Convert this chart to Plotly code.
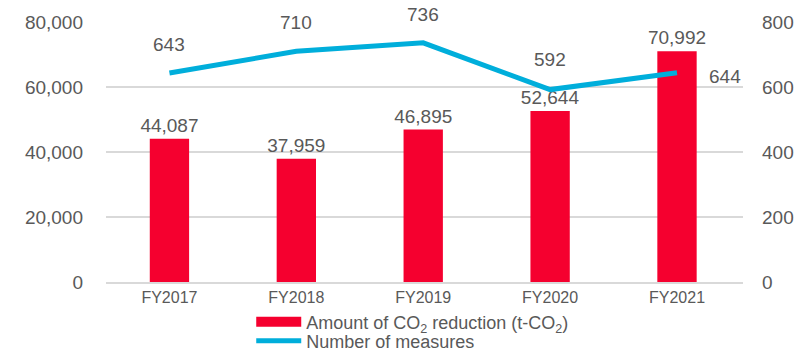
import plotly.graph_objects as go

years = ["FY2017", "FY2018", "FY2019", "FY2020", "FY2021"]
co2_reduction = [44087, 37959, 46895, 52644, 70992]
measures = [643, 710, 736, 592, 644]

left_ticks = [0, 20000, 40000, 60000, 80000]
right_ticks = [0, 200, 400, 600, 800]

RED = "#F5002F"
BLUE = "#00AEDB"
GRAY = "#595959"
FONT = "Liberation Sans, Arial, sans-serif"

fig = go.Figure()

fig.add_trace(go.Bar(
    x=years, y=co2_reduction,
    marker=dict(color=RED, line=dict(width=0)),
    width=0.31,
    text=[f"{v:,}" for v in co2_reduction],
    textposition="outside",
    constraintext="none",
    textfont=dict(size=19, color=GRAY, family=FONT),
    cliponaxis=False,
    showlegend=False,
))

# legend swatch for the bars, drawn as a thick line
fig.add_trace(go.Scatter(
    x=[None], y=[None], mode="lines",
    line=dict(color=RED, width=12),
    name="Amount of CO<sub>2</sub> reduction (t-CO<sub>2</sub>)",
    legend="legend",
))

fig.add_trace(go.Scatter(
    x=years, y=measures, yaxis="y2", mode="lines",
    line=dict(color=BLUE, width=5),
    name="Number of measures",
    legend="legend2",
))

# labels for the line values
shifts = [(0, 29), (0, 29), (0, 28), (0, 30), (48, -4)]
for yr, v, (dx, dy) in zip(years, measures, shifts):
    fig.add_annotation(
        x=yr, y=v, xref="x", yref="y2", text=str(v), showarrow=False,
        xshift=dx, yshift=dy,
        font=dict(size=19, color=GRAY, family=FONT),
    )

legend_style = dict(
    orientation="v", x=0.228, xanchor="left", yanchor="middle",
    yref="container",
    font=dict(size=18, color=GRAY), bgcolor="rgba(0,0,0,0)", itemwidth=45,
)

fig.update_layout(
    width=797, height=352,
    margin=dict(l=106, r=54, t=22, b=70, autoexpand=False),
    paper_bgcolor="white", plot_bgcolor="white",
    font=dict(family=FONT, color=GRAY),
    xaxis=dict(
        showgrid=False, showline=True, linecolor="#D9D9D9", linewidth=1.5,
        tickfont=dict(size=16, color=GRAY), ticks="",
    ),
    yaxis=dict(
        range=[0, 80000], tickvals=left_ticks,
        ticktext=[f"{v:,}" for v in left_ticks],
        showgrid=True, gridcolor="#D9D9D9", gridwidth=1.5,
        zeroline=False, showline=False,
        tickfont=dict(size=19, color=GRAY), ticklabelstandoff=22,
    ),
    yaxis2=dict(
        range=[0, 800], tickvals=right_ticks, overlaying="y", side="right",
        showgrid=False, zeroline=False, showline=False,
        tickfont=dict(size=19, color=GRAY), ticklabelstandoff=18,
    ),
    legend=dict(y=0.085, **legend_style),
    legend2=dict(y=0.031, **legend_style),
)

fig.write_html("out.html")
